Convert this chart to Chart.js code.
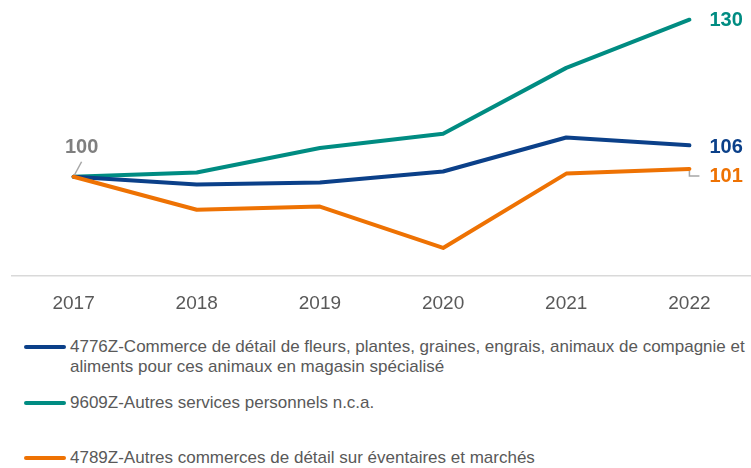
<!DOCTYPE html>
<html lang="fr">
<head>
<meta charset="utf-8">
<script src="https://cdn.jsdelivr.net/npm/chart.js@4.4.0/dist/chart.umd.min.js"></script>
<style>
  html, body { margin: 0; padding: 0; background: #fff; }
  body { width: 751px; height: 468px; position: relative; overflow: hidden;
         font-family: "Liberation Sans", Arial, sans-serif; }
  #graph { position: absolute; left: 0; top: 0; }
  .leg { position: absolute; left: 24px; width: 727px; color: #595959; font-size: 17px; line-height: 20px; }
  .leg .trait { position: absolute; left: 0; top: 8px; width: 42px; height: 4px; border-radius: 2px; }
  .leg .txt { margin-left: 46px; }
</style>
</head>
<body>
<canvas id="graph" width="751" height="329"></canvas>
<div id="legende"></div>
<script>
// Indices base 100 en 2017
const annees = ["2017", "2018", "2019", "2020", "2021", "2022"];
const fleurs = [100, 98.5, 98.9, 101, 107.5, 106];
const services = [100, 100.8, 105.5, 108.2, 120.8, 130];
const eventaires = [100, 93.7, 94.3, 86.4, 100.6, 101.5];
const etiquettesFin = ["106", "130", "101"];
const nomsSeries = [
  "4776Z-Commerce de détail de fleurs, plantes, graines, engrais, animaux de compagnie et aliments pour ces animaux en magasin spécialisé",
  "9609Z-Autres services personnels n.c.a.",
  "4789Z-Autres commerces de détail sur éventaires et marchés"
];

const bleu = "#0b4089";
const vert = "#008c82";
const orange = "#ee7203";
const police = '"Liberation Sans", Arial, sans-serif';

// Etiquettes de fin de courbe + "100" au départ
const etiquettes = {
  id: "etiquettes",
  afterDatasetsDraw(chart) {
    const ctx = chart.ctx;
    ctx.save();
    ctx.font = "bold 20px " + police;
    ctx.textBaseline = "middle";
    chart.data.datasets.forEach((ds, i) => {
      const meta = chart.getDatasetMeta(i);
      const pt = meta.data[meta.data.length - 1];
      const dy = ds.decalage;
      if (ds.renvoi) {
        ctx.strokeStyle = "#a6a6a6";
        ctx.lineWidth = 1.5;
        ctx.beginPath();
        ctx.moveTo(pt.x, pt.y + 2);
        ctx.lineTo(pt.x, pt.y + dy - 1);
        ctx.lineTo(pt.x + 10, pt.y + dy - 1);
        ctx.stroke();
      }
      ctx.fillStyle = ds.borderColor;
      ctx.textAlign = "left";
      ctx.fillText(ds.etiquette, pt.x + 20, pt.y + dy);
    });
    // valeur de départ commune
    const p0 = chart.getDatasetMeta(0).data[0];
    ctx.strokeStyle = "#a6a6a6";
    ctx.lineWidth = 1.5;
    ctx.beginPath();
    ctx.moveTo(p0.x + 1, p0.y - 2);
    ctx.lineTo(p0.x + 8, p0.y - 15);
    ctx.stroke();
    ctx.fillStyle = "#7f7f7f";
    ctx.textAlign = "center";
    ctx.fillText("100", p0.x + 8, p0.y - 29);
    ctx.restore();
  }
};

new Chart(document.getElementById("graph"), {
  type: "line",
  data: {
    labels: annees,
    datasets: [
      { label: nomsSeries[2], data: eventaires, borderColor: orange, etiquette: etiquettesFin[2], decalage: 8, renvoi: true },
      { label: nomsSeries[0], data: fleurs, borderColor: bleu, etiquette: etiquettesFin[0], decalage: 2 },
      { label: nomsSeries[1], data: services, borderColor: vert, etiquette: etiquettesFin[1], decalage: 1 }
    ]
  },
  options: {
    responsive: false,
    animation: false,
    clip: false,
    layout: { padding: { left: 12, right: 0, top: 4, bottom: 6 } },
    elements: {
      line: { borderWidth: 4, tension: 0, borderCapStyle: "round", borderJoinStyle: "round", fill: false },
      point: { radius: 0 }
    },
    scales: {
      x: {
        offset: true,
        grid: { display: false },
        border: { display: true, color: "#d9d9d9", width: 1.5 },
        ticks: { color: "#595959", font: { family: police, size: 19 }, padding: 8 }
      },
      y: { display: false, min: 81, max: 133 }
    },
    plugins: {
      legend: { display: false },
      tooltip: { enabled: false }
    }
  },
  plugins: [etiquettes]
});

// Légende HTML (texte sur deux lignes pour la première série)
const legende = document.getElementById("legende");
const ordre = [[0, bleu, 337], [1, vert, 393], [2, orange, 448]];
ordre.forEach(([i, couleur, haut]) => {
  const item = document.createElement("div");
  item.className = "leg";
  item.style.top = haut + "px";
  const trait = document.createElement("div");
  trait.className = "trait";
  trait.style.background = couleur;
  const txt = document.createElement("div");
  txt.className = "txt";
  txt.textContent = nomsSeries[i];
  item.appendChild(trait);
  item.appendChild(txt);
  legende.appendChild(item);
});
</script>
</body>
</html>
